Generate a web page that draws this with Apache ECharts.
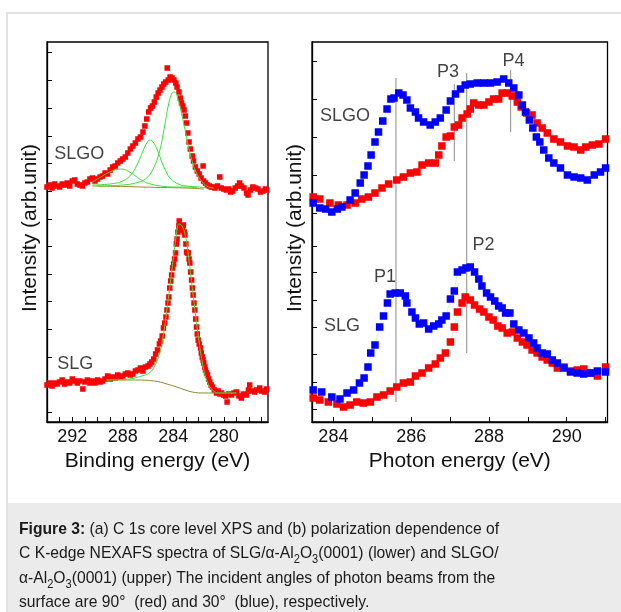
<!DOCTYPE html>
<html>
<head>
<meta charset="utf-8">
<script src="https://cdn.jsdelivr.net/npm/echarts@6/dist/echarts.min.js"></script>
<style>
  html, body { margin: 0; padding: 0; background: #ffffff; }
  #chart { width: 621px; height: 612px; }
</style>
</head>
<body>
<div id="chart"></div>
<script>
// ---------- (a) C 1s XPS: binding energy (eV), intensity (arb. units) ----------
const xpsSLGO = [
  [294.0,23.5],[293.8,23.7],[293.6,23.4],[293.4,23.8],[293.2,23.6],[293.0,23.5],[292.8,23.8],[292.6,23.7],
  [292.4,23.9],[292.2,23.6],[292.0,24.1],[291.8,24.2],[291.6,23.8],[291.4,23.7],[291.2,23.6],[291.0,23.9],
  [290.8,24.0],[290.6,24.3],[290.4,24.4],[290.2,24.1],[290.0,24.3],[289.8,24.5],[289.6,24.6],[289.4,24.9],
  [289.2,24.8],[289.0,25.2],[288.8,25.5],[288.6,25.6],[288.4,25.9],[288.2,26.1],[288.0,26.3],[287.8,26.5],
  [287.6,26.9],[287.4,27.3],[287.2,27.6],[287.0,27.9],[286.8,28.3],[286.6,28.5],[286.4,29.0],[286.25,29.6],
  [286.1,30.3],[285.95,31.0],[285.8,31.4],[285.65,31.6],[285.5,32.0],[285.35,32.5],[285.2,32.9],[285.05,33.2],
  [284.9,33.5],[284.75,33.8],[284.6,34.0],[284.48,35.4],[284.4,34.2],[284.25,34.5],[284.1,34.4],[283.95,34.2],
  [283.8,33.9],[283.7,33.5],[283.55,33.0],[283.45,32.4],[283.35,31.9],[283.25,31.6],[283.15,31.2],[283.05,30.6],
  [282.95,29.9],[282.85,28.9],[282.75,28.0],[282.65,27.3],[282.5,26.6],[282.4,26.1],[282.25,25.5],[282.1,25.1],
  [281.95,24.8],[281.8,24.4],[281.64,25.6],[281.6,24.1],[281.45,23.9],[281.3,23.7],[281.15,23.6],[281.0,23.5],
  [280.85,23.5],[280.7,23.4],[280.5,23.6],[280.32,24.5],[280.2,23.4],[280.0,23.3],[279.8,23.2],[279.6,23.3],
  [279.45,23.0],[279.3,23.1],[279.1,23.4],[278.9,23.6],[278.75,23.9],[278.6,23.6],[278.4,23.4],[278.2,22.9],
  [278.08,22.7],[277.9,23.2],[277.7,23.5],[277.5,23.4],[277.3,23.3],[277.1,23.0],[276.9,23.1],[276.7,23.3],
  [276.6,23.2]
];
const xpsSLG = [
  [294.0,3.7],[293.8,3.9],[293.6,3.6],[293.4,3.9],[293.2,3.8],[293.0,4.0],[292.8,4.2],[292.6,3.8],
  [292.4,4.0],[292.2,3.9],[292.0,4.3],[291.8,4.1],[291.6,3.9],[291.4,4.1],[291.16,3.3],[291.0,4.0],
  [290.8,4.2],[290.6,3.9],[290.4,4.1],[290.2,3.9],[290.0,4.2],[289.8,4.0],[289.6,4.1],[289.4,4.3],
  [289.2,4.6],[289.0,4.3],[288.8,4.5],[288.6,4.4],[288.4,4.7],[288.2,4.5],[288.0,4.6],[287.8,4.8],
  [287.6,4.9],[287.4,4.7],[287.2,4.8],[287.0,5.1],[286.8,5.2],[286.6,5.4],[286.4,5.1],[286.2,5.5],
  [286.0,5.6],[285.85,5.8],[285.7,6.0],[285.55,6.3],[285.4,6.8],[285.25,7.2],[285.1,7.8],[285.0,8.1],
  [284.88,8.6],[284.78,9.4],[284.68,9.9],[284.58,10.5],[284.5,11.2],[284.42,11.9],[284.35,12.5],[284.28,13.4],
  [284.2,14.1],[284.13,14.7],[284.05,15.4],[283.97,15.8],[283.9,16.3],[283.82,16.9],[283.76,17.8],[283.7,18.3],
  [283.63,19.0],[283.56,19.6],[283.53,20.1],[283.47,19.5],[283.42,19.6],[283.36,19.3],[283.3,19.2],[283.25,19.5],
  [283.2,19.7],[283.14,19.0],[283.08,18.7],[283.0,17.8],[282.95,17.0],[282.88,16.9],[282.82,16.9],[282.75,16.3],
  [282.69,15.9],[282.62,15.0],[282.55,14.2],[282.49,13.4],[282.43,12.7],[282.36,11.9],[282.29,11.2],[282.22,10.3],
  [282.16,9.5],[282.1,8.8],[282.03,8.2],[281.95,7.8],[281.84,7.4],[281.78,6.9],[281.71,6.5],[281.64,6.2],
  [281.58,5.9],[281.5,5.5],[281.45,5.2],[281.37,4.9],[281.29,4.7],[281.2,4.3],[281.11,4.0],[281.0,3.7],
  [280.9,3.5],[280.75,3.2],[280.58,2.9],[280.45,3.1],[280.3,2.8],[280.18,2.9],[280.0,2.7],[279.85,2.6],
  [279.74,2.0],[279.6,2.8],[279.4,2.7],[279.2,2.9],[279.0,3.0],[278.8,2.6],[278.61,2.4],[278.45,2.8],
  [278.21,2.7],[278.05,3.2],[277.95,3.7],[277.8,3.1],[277.56,3.0],[277.4,3.2],[277.16,3.4],[277.0,3.1],
  [276.77,3.0],[276.6,3.3]
];

// Fitted components
const fitSLGOMain = [[290,23.6],[288,23.7],[287,23.9],[286.2,24.3],[285.6,25.3],[285.1,27.0],[284.7,29.5],
  [284.4,31.6],[284.1,32.9],[283.9,33.0],[283.6,32.2],[283.3,30.6],[283.0,28.8],[282.6,26.5],[282.2,25.0],
  [281.7,24.0],[281.2,23.5],[280.8,23.4]];
const fitSLGOSecond = [[290.4,23.7],[289,23.8],[288,24.1],[287.3,24.8],[286.8,25.9],[286.4,27.1],[286.1,27.9],
  [285.85,28.2],[285.6,28.0],[285.3,27.3],[285,26.3],[284.6,25.1],[284.2,24.3],[283.6,23.8],[283,23.6],
  [282,23.5],[281.4,23.4]];
const fitSLGOThird = [[290.4,24.0],[290,24.3],[289.2,24.9],[288.6,25.2],[288.1,25.3],[287.6,25.1],[287,24.6],
  [286.4,24.1],[285.8,23.8],[285,23.6],[284,23.5],[283,23.5],[282,23.4]];
const bgSLGO = [[290.4,23.6],[288,23.55],[285,23.45],[283,23.4],[281.6,23.3]];
const fitSLG = [[289.3,4.2],[287.5,4.3],[286.5,4.6],[285.8,5.0],[285.2,6.4],[284.8,8.6],[284.5,11.3],
  [284.1,15.3],[283.8,18.3],[283.55,19.8],[283.3,19.6],[283.0,18.4],[282.8,16.6],[282.4,12.4],[282.0,8.4],
  [281.65,5.6],[281.3,4.0],[280.9,3.2],[280.4,2.9],[279.0,2.9]];
const bgSLG = [[289.3,4.2],[287,4.2],[285.5,4.1],[284.5,3.8],[283.5,3.4],[282.5,3.0],[281.5,2.9],[280.5,2.9],[279.0,2.9]];

// ---------- (b) C K-edge NEXAFS: photon energy (eV), intensity (arb. units) ----------
const nexafsSLGORed = [[283.48,22.5],[283.65,22.3],[283.91,21.9],[284.13,21.7],[284.35,21.7],[284.56,21.9],
  [284.73,22.3],[284.9,22.5],[285.07,22.9],[285.25,23.4],[285.42,23.8],[285.63,24.2],[285.8,24.5],[285.98,24.9],
  [286.15,25.0],[286.28,25.7],[286.45,25.9],[286.62,25.9],[286.71,26.7],[286.79,27.6],[286.9,28.5],[287.01,28.6],
  [287.11,29.5],[287.22,29.7],[287.31,30.4],[287.44,30.8],[287.52,31.3],[287.61,31.9],[287.74,31.7],[287.87,31.7],
  [288.0,32.0],[288.12,32.3],[288.25,32.3],[288.34,32.9],[288.47,32.9],[288.6,32.6],[288.73,32.0],[288.83,31.5],
  [288.97,30.9],[289.11,30.7],[289.24,29.9],[289.37,29.4],[289.5,28.9],[289.67,28.3],[289.84,28.0],[290.02,27.6],
  [290.19,27.5],[290.36,27.2],[290.49,27.5],[290.66,27.7],[290.83,27.8],[291.0,28.3]];
const nexafsSLGOBlue = [[283.48,21.9],[283.65,21.4],[283.8,21.3],[283.96,21.0],[284.1,21.3],[284.22,21.5],
  [284.43,22.2],[284.56,22.9],[284.69,23.9],[284.79,24.7],[284.89,25.6],[284.97,26.7],[285.07,28.0],[285.16,29.0],
  [285.27,30.1],[285.38,31.3],[285.48,32.3],[285.56,32.4],[285.68,32.9],[285.79,32.7],[285.89,32.2],[285.98,31.4],
  [286.11,31.0],[286.19,30.4],[286.32,30.0],[286.49,29.7],[286.62,30.0],[286.75,30.4],[286.9,31.2],[287.01,32.1],
  [287.14,32.8],[287.27,33.3],[287.39,33.7],[287.52,33.8],[287.7,33.9],[287.87,33.9],[288.04,33.9],[288.21,34.0],
  [288.38,34.3],[288.51,33.9],[288.64,33.4],[288.77,32.7],[288.86,31.7],[288.94,31.0],[289.04,30.2],[289.13,29.4],
  [289.22,28.5],[289.31,28.0],[289.41,27.2],[289.54,26.4],[289.67,25.9],[289.84,25.4],[290.02,24.7],[290.19,24.5],
  [290.36,24.4],[290.53,24.2],[290.71,24.7],[290.87,25.0],[291.0,25.4]];
const nexafsSLGRed = [[283.48,2.4],[283.65,2.2],[283.87,2.0],[284.09,1.8],[284.26,1.5],[284.43,1.7],[284.6,2.0],
  [284.77,1.9],[284.95,2.0],[285.12,2.5],[285.29,2.7],[285.46,3.1],[285.63,3.5],[285.8,3.9],[285.98,4.0],
  [286.11,4.6],[286.28,4.9],[286.45,5.4],[286.62,5.8],[286.75,6.4],[286.88,6.9],[287.01,8.0],[287.11,9.5],
  [287.19,11.0],[287.31,11.9],[287.39,12.5],[287.52,12.2],[287.63,11.7],[287.76,11.3],[287.87,11.0],[288.0,10.5],
  [288.11,10.2],[288.23,9.6],[288.34,9.4],[288.47,8.9],[288.6,9.0],[288.73,8.4],[288.86,8.0],[288.98,7.7],
  [289.11,7.2],[289.24,6.9],[289.37,6.5],[289.5,6.2],[289.63,5.9],[289.76,5.4],[289.93,5.5],[290.1,5.1],
  [290.27,5.2],[290.44,5.3],[290.62,4.9],[290.79,4.6],[291.0,5.5]];
const nexafsSLGBlue = [[283.48,3.2],[283.7,3.0],[283.96,2.5],[284.17,2.3],[284.35,2.9],[284.52,3.2],[284.67,3.9],
  [284.79,4.4],[284.89,5.5],[284.96,6.9],[285.07,7.7],[285.19,9.5],[285.29,10.6],[285.39,11.9],[285.46,12.8],
  [285.59,12.9],[285.72,12.9],[285.85,12.6],[285.89,11.9],[286.02,11.0],[286.11,10.4],[286.21,9.8],[286.32,9.9],
  [286.45,9.3],[286.58,9.6],[286.71,9.8],[286.79,10.2],[286.9,10.6],[287.01,12.3],[287.11,13.1],[287.19,15.0],
  [287.31,15.2],[287.41,15.4],[287.52,15.5],[287.63,15.0],[287.74,14.3],[287.82,13.6],[287.94,12.9],[288.04,12.5],
  [288.15,12.1],[288.25,11.6],[288.34,11.4],[288.43,10.9],[288.54,10.9],[288.64,9.8],[288.77,9.2],[288.9,8.9],
  [289.03,8.4],[289.15,7.9],[289.24,7.4],[289.37,6.9],[289.5,6.8],[289.63,6.2],[289.76,5.9],[289.93,5.4],
  [290.1,5.0],[290.27,4.9],[290.44,4.8],[290.62,4.9],[290.79,5.1],[291.0,5.0]];

// Peak guide lines: photon energy and vertical extent
const peakLines = [
  { e: 285.61, from: 2.0, to: 34.4 },
  { e: 287.43, from: 6.9, to: 34.9 },
  { e: 287.11, from: 26.1, to: 33.8 },
  { e: 288.56, from: 29.0, to: 35.2 }
];
const peakNames = ['P1', 'P2', 'P3', 'P4'];
const peakNameAt = [[285.33, 14.5], [287.86, 17.7], [286.95, 35.0], [288.63, 36.1]];
const sampleNames = ['SLGO', 'SLG'];
const sampleNameAtXPS = [[291.45, 26.8], [291.76, 5.8]];
const sampleNameAtNEXAFS = [[284.3, 30.6], [284.22, 9.6]];

// Axis ticks
const xpsTicks = [277,278,279,280,281,282,283,284,285,286,287,288,289,290,291,292,293];
const xpsTickLabels = [280, 284, 288, 292];
const nexafsTicks = [284,285,286,287,288,289,290,291];
const nexafsTickLabels = [284, 286, 288, 290];
const xpsYTicks = [1.0,3.8,6.5,9.3,12.1,14.8,17.6,20.3,23.1,25.9,28.6,31.4,34.2,37.0];
const nexafsYTicks = [1.3,4.0,6.8,9.5,12.2,15.0,17.6,20.9,24.7,28.5,32.3,36.1];

const FONT = 'Liberation Sans, Arial, Helvetica, sans-serif';
const INK = '#111111';
const RED = '#ff0000';
const BLUE = '#0000ff';
const FIT = '#3be03b';
const BG = '#8f8a2e';

function xAxisCfg(grid, min, max, ticks, labels, name, inverse) {
  return {
    gridIndex: grid, type: 'value', min: min, max: max, inverse: inverse,
    name: name, nameLocation: 'middle', nameGap: 27,
    nameTextStyle: { fontFamily: FONT, fontSize: 21, color: INK },
    axisLine: { show: true, onZero: false, lineStyle: { color: '#000', width: 1.3 } },
    axisTick: { show: true, inside: true, length: 5, customValues: ticks, lineStyle: { color: '#000', width: 1 } },
    axisLabel: { show: true, customValues: labels, margin: 6, fontFamily: FONT, fontSize: 18, color: INK },
    splitLine: { show: false }
  };
}
function yAxisCfg(grid, ticks, gap) {
  return {
    gridIndex: grid, type: 'value', min: 0, max: 38,
    name: 'Intensity (arb.unit)', nameLocation: 'middle', nameGap: gap, nameRotate: 90,
    nameTextStyle: { fontFamily: FONT, fontSize: 21, color: INK, padding: [0, 0, 0, 8] },
    axisLine: { show: true, onZero: false, lineStyle: { color: '#000', width: 1.3 } },
    axisTick: { show: true, inside: true, length: 5, customValues: ticks, lineStyle: { color: '#000', width: 1 } },
    axisLabel: { show: false },
    splitLine: { show: false }
  };
}
function dots(data, color, size, xi, yi, guide) {
  return {
    type: 'line', xAxisIndex: xi, yAxisIndex: yi, data: data,
    symbol: 'rect', symbolSize: size, showSymbol: true,
    itemStyle: { color: color },
    lineStyle: guide ? { color: '#bfeebf', width: 0.7 } : { width: 0, opacity: 0 },
    silent: true, animation: false, z: 3
  };
}
function curve(data, color, xi, yi) {
  return {
    type: 'line', xAxisIndex: xi, yAxisIndex: yi, data: data, smooth: 0.4,
    showSymbol: false, lineStyle: { color: color, width: 1 }, silent: true, animation: false, z: 4
  };
}
function textMarks(points, names, xi, yi) {
  return {
    type: 'scatter', xAxisIndex: xi, yAxisIndex: yi, symbolSize: 0, silent: true, animation: false, z: 6,
    data: points.map((p, i) => ({ value: p, name: names[i] })),
    label: { show: true, position: 'inside', formatter: '{b}', fontFamily: FONT, fontSize: 18, color: INK }
  };
}

const series = [
  dots(xpsSLGO, RED, 5.5, 0, 0, false),
  dots(xpsSLG, RED, 5.5, 0, 0, false),
  curve(bgSLGO, BG, 0, 0),
  curve(bgSLG, BG, 0, 0),
  curve(fitSLGOThird, FIT, 0, 0),
  curve(fitSLGOSecond, FIT, 0, 0),
  curve(fitSLGOMain, FIT, 0, 0),
  curve(fitSLG, FIT, 0, 0),
  textMarks(sampleNameAtXPS, sampleNames, 0, 0)
];
peakLines.forEach(function (p) {
  series.push({
    type: 'line', xAxisIndex: 1, yAxisIndex: 1, data: [[p.e, p.from], [p.e, p.to]],
    showSymbol: false, lineStyle: { color: '#8a8a8a', width: 1 }, silent: true, animation: false, z: 2
  });
});
series.push(
  dots(nexafsSLGORed, RED, 7.5, 1, 1, true),
  dots(nexafsSLGRed, RED, 7.5, 1, 1, true),
  dots(nexafsSLGOBlue, BLUE, 7.5, 1, 1, true),
  dots(nexafsSLGBlue, BLUE, 7.5, 1, 1, true),
  textMarks(peakNameAt, peakNames, 1, 1),
  textMarks(sampleNameAtNEXAFS, sampleNames, 1, 1)
);

const chart = echarts.init(document.getElementById('chart'), null, { renderer: 'canvas' });
chart.setOption({
  backgroundColor: '#ffffff',
  animation: false,
  textStyle: { fontFamily: FONT },
  grid: [
    { left: 47, top: 42, width: 221, height: 380, show: true, borderColor: '#000', borderWidth: 1.3, backgroundColor: 'transparent' },
    { left: 312, top: 42, width: 295.5, height: 380, show: true, borderColor: '#000', borderWidth: 1.3, backgroundColor: 'transparent' }
  ],
  xAxis: [
    xAxisCfg(0, 276.5, 294, xpsTicks, xpsTickLabels, 'Binding energy (eV)', true),
    xAxisCfg(1, 283.45, 291.05, nexafsTicks, nexafsTickLabels, 'Photon energy (eV)', false)
  ],
  yAxis: [ yAxisCfg(0, xpsYTicks, 6), yAxisCfg(1, nexafsYTicks, 6) ],
  series: series,
  graphic: [
    // page frame and caption panel
    { type: 'rect', shape: { x: 7, y: 503, width: 614, height: 109 }, style: { fill: '#ebebeb' }, silent: true, z: -2 },
    { type: 'polyline', shape: { points: [[7, 612], [7, 13], [621, 13]] }, style: { stroke: '#e2e2e2', lineWidth: 2, fill: null }, silent: true, z: -1 },
    {
      type: 'text', x: 19, y: 517, scaleX: 0.922, originX: 0, originY: 0, silent: true,
      style: {
        text: '{b|Figure 3:} (a) C 1s core level XPS and (b) polarization dependence of\n' +
              'C K-edge NEXAFS spectra of SLG/α-Al{s|2}O{s|3}(0001) (lower) and SLGO/\n' +
              'α-Al{s|2}O{s|3}(0001) (upper) The incident angles of photon beams from the\n' +
              'surface are 90°  (red) and 30°  (blue), respectively.',
        fontFamily: FONT, fontSize: 17, lineHeight: 24.5, fill: '#1a1a1a',
        rich: {
          b: { fontFamily: FONT, fontSize: 17, fontWeight: 'bold', fill: '#1a1a1a', lineHeight: 24.5 },
          s: { fontFamily: FONT, fontSize: 12, lineHeight: 12, verticalAlign: 'bottom', fill: '#1a1a1a' }
        }
      }
    }
  ]
});
</script>
</body>
</html>
